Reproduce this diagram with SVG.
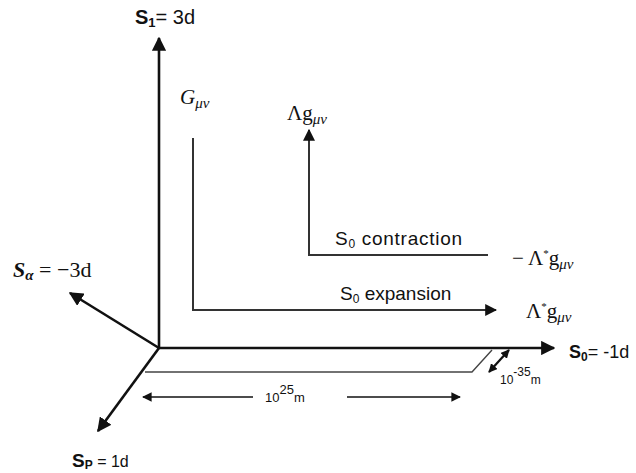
<svg xmlns="http://www.w3.org/2000/svg" width="636" height="473" viewBox="0 0 636 473">
<style>
.sans{font-family:"Liberation Sans","Open Sans",Arial,sans-serif;fill:#111}
.ser{font-family:"Liberation Serif","DejaVu Serif",serif;fill:#111}
.ax{stroke:#111;stroke-width:2.6;fill:none}
.ln{stroke:#333;stroke-width:2;fill:none}
.thin{stroke:#444;stroke-width:1.4;fill:none}
</style>
<defs>
<marker id="ah" viewBox="0 0 10 10" refX="9" refY="5" markerWidth="5.5" markerHeight="5.5" orient="auto-start-reverse" markerUnits="strokeWidth"><path d="M0,0 L10,5 L0,10 z" fill="#111"/></marker>
<marker id="ah2" viewBox="0 0 10 10" refX="9" refY="5" markerWidth="6" markerHeight="6" orient="auto-start-reverse" markerUnits="strokeWidth"><path d="M0,0 L10,5 L0,10 z" fill="#111"/></marker>
<marker id="ah3" viewBox="0 0 10 10" refX="9" refY="5" markerWidth="4" markerHeight="4" orient="auto-start-reverse" markerUnits="strokeWidth"><path d="M0,0 L10,5 L0,10 z" fill="#111"/></marker>
</defs>
<rect width="636" height="473" fill="#fff"/>
<g id="connectors">
<line class="ax" x1="159" y1="348" x2="159" y2="38" marker-end="url(#ah)"/>
<line class="ax" x1="158" y1="348" x2="554" y2="348" marker-end="url(#ah)"/>
<line class="ax" x1="159" y1="348" x2="70" y2="293" marker-end="url(#ah)"/>
<line class="ax" x1="159" y1="348" x2="98" y2="431" marker-end="url(#ah)"/>
<polyline class="ln" points="193,138 193,310 496,310" marker-end="url(#ah2)"/>
<polyline class="ln" points="309,130 309,255 488,255" marker-start="url(#ah2)"/>
<polyline class="thin" points="145,372 472,372 492,350"/>
<line stroke="#111" stroke-width="2.2" x1="489" y1="372" x2="509" y2="350" marker-start="url(#ah3)" marker-end="url(#ah3)"/>
<line stroke="#111" stroke-width="1.6" x1="253" y1="397" x2="143" y2="397" marker-end="url(#ah2)"/>
<line stroke="#111" stroke-width="1.6" x1="347" y1="397" x2="460" y2="397" marker-end="url(#ah2)"/>
</g>
<g id="s1"><text class="sans" x="135" y="24" font-size="20"><tspan font-weight="bold">S</tspan><tspan font-weight="bold" font-size="13" dy="3">1</tspan><tspan dy="-3">= 3d</tspan></text></g>
<g id="s0"><text class="sans" x="569" y="358" font-size="18"><tspan font-weight="bold">S</tspan><tspan font-weight="bold" font-size="12" dy="3">0</tspan><tspan dy="-3">= -1d</tspan></text></g>
<g id="salpha"><text class="ser" x="13" y="277" font-size="22"><tspan font-weight="bold" font-style="italic">S</tspan><tspan font-weight="bold" font-style="italic" font-size="15" dy="3">α</tspan><tspan dy="-3"> = −3d</tspan></text></g>
<g id="sp"><text class="sans" x="72" y="467" font-size="19"><tspan font-weight="bold">S</tspan><tspan font-weight="bold" font-size="12" dy="2">P</tspan><tspan dy="-2" font-size="16"> = 1d</tspan></text></g>
<g id="G"><text class="ser" x="180" y="104" font-size="21"><tspan font-style="italic">G</tspan><tspan font-style="italic" font-size="15" dy="4">μν</tspan></text></g>
<g id="Lg"><text class="ser" x="287" y="120" font-size="21">Λg<tspan font-style="italic" font-size="15" dy="4">μν</tspan></text></g>
<g id="contraction"><text class="sans" x="335" y="245" font-size="19" textLength="127" lengthAdjust="spacing">S<tspan font-size="12" dy="3">0</tspan><tspan dy="-3"> contraction</tspan></text></g>
<g id="mLg"><text class="ser" x="512" y="265" font-size="21">− Λ<tspan font-size="11" dy="-8">*</tspan><tspan dy="8">g</tspan><tspan font-style="italic" font-size="15" dy="4">μν</tspan></text></g>
<g id="expansion"><text class="sans" x="340" y="300" font-size="19">S<tspan font-size="12" dy="3">0</tspan><tspan dy="-3"> expansion</tspan></text></g>
<g id="Lsg"><text class="ser" x="526" y="318" font-size="21">Λ<tspan font-size="11" dy="-8">*</tspan><tspan dy="8">g</tspan><tspan font-style="italic" font-size="15" dy="4">μν</tspan></text></g>
<g id="d25"><text class="sans" x="265" y="402" font-size="13">10<tspan dy="-8">25</tspan><tspan dy="8">m</tspan></text></g>
<g id="d35"><text class="sans" x="500" y="384" font-size="12">10<tspan dy="-8">-35</tspan><tspan dy="8">m</tspan></text></g>
</svg>
